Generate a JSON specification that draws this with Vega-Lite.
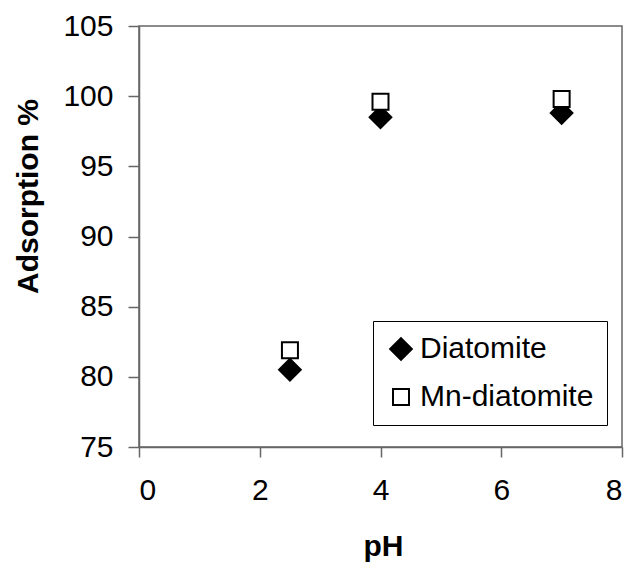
{
  "$schema": "https://vega.github.io/schema/vega-lite/v6.json",
  "autosize": "none",
  "width": 483,
  "height": 421,
  "padding": {"left": 139, "top": 26, "right": 12, "bottom": 117},
  "background": "white",
  "config": {
    "font": "Liberation Sans",
    "view": {"stroke": "#666666", "strokeWidth": 1.5},
    "axis": {
      "grid": false,
      "domainColor": "#666666",
      "domainWidth": 1.5,
      "tickColor": "#666666",
      "tickWidth": 1.5,
      "labelFont": "Liberation Sans",
      "labelFontSize": 30,
      "labelColor": "#000000",
      "titleFont": "Liberation Sans",
      "titleFontSize": 30,
      "titleFontWeight": "bold",
      "titleColor": "#000000"
    }
  },
  "data": {
    "values": [
      {"pH": 2.5, "adsorption": 80.5, "series": "Diatomite"},
      {"pH": 4, "adsorption": 98.5, "series": "Diatomite"},
      {"pH": 7, "adsorption": 98.8, "series": "Diatomite"},
      {"pH": 2.5, "adsorption": 81.9, "series": "Mn-diatomite"},
      {"pH": 4, "adsorption": 99.6, "series": "Mn-diatomite"},
      {"pH": 7, "adsorption": 99.8, "series": "Mn-diatomite"}
    ]
  },
  "mark": {"type": "point", "filled": false, "stroke": "black", "strokeWidth": 2, "opacity": 1},
  "encoding": {
    "x": {
      "field": "pH", "type": "quantitative",
      "scale": {"domain": [0, 8], "nice": false, "zero": false},
      "axis": {
        "values": [0, 2, 4, 6, 8],
        "tickSize": 10,
        "labelPadding": 18,
        "title": "pH",
        "titleX": 244,
        "titleY": 108,
        "titleBaseline": "alphabetic",
        "titleAlign": "center"
      }
    },
    "y": {
      "field": "adsorption", "type": "quantitative",
      "scale": {"domain": [75, 105], "nice": false, "zero": false},
      "axis": {
        "values": [75, 80, 85, 90, 95, 100, 105],
        "tickSize": 11,
        "labelPadding": 15,
        "title": "Adsorption %",
        "titleAngle": -90,
        "titleX": -102,
        "titleY": 170,
        "titleBaseline": "alphabetic",
        "titleAlign": "center"
      }
    },
    "shape": {
      "field": "series", "type": "nominal",
      "scale": {"domain": ["Diatomite", "Mn-diatomite"], "range": ["diamond", "square"]},
      "legend": {
        "title": null,
        "orient": "none",
        "legendX": 234,
        "legendY": 295,
        "strokeColor": "black",
        "fillColor": "white",
        "padding": 13,
        "rowPadding": 18,
        "labelFont": "Liberation Sans",
        "labelFontSize": 30,
        "labelColor": "black",
        "labelLimit": 400,
        "labelOffset": 4,
        "symbolStrokeWidth": 2
      }
    },
    "fill": {
      "field": "series", "type": "nominal",
      "scale": {"domain": ["Diatomite", "Mn-diatomite"], "range": ["black", "white"]}
    },
    "size": {
      "field": "series", "type": "nominal",
      "scale": {"domain": ["Diatomite", "Mn-diatomite"], "range": [470, 256]}
    }
  }
}
